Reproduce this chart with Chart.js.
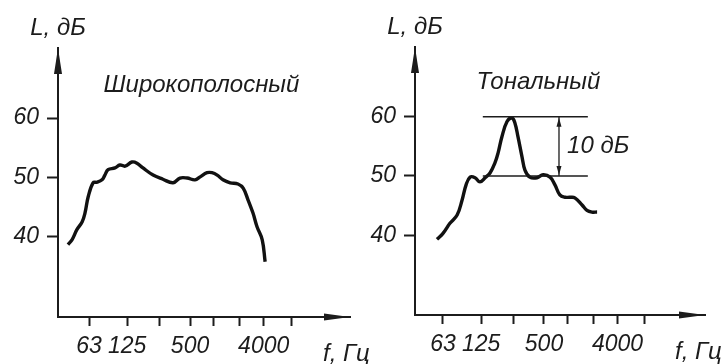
<!DOCTYPE html>
<html>
<head>
<meta charset="utf-8">
<script src="https://cdn.jsdelivr.net/npm/chart.js@4.4.1/dist/chart.umd.min.js"></script>
<style>
  html, body { margin: 0; padding: 0; background: #fff; }
  #wrap { position: relative; width: 725px; height: 364px; overflow: hidden; }
  canvas { position: absolute; top: 0; }
  #c1 { left: 0; }
  #c2 { left: 362px; }
</style>
</head>
<body>
<div id="wrap">
  <canvas id="c1" width="380" height="364"></canvas>
  <canvas id="c2" width="363" height="364"></canvas>
</div>
<script>
// octave bands; tick positions as drawn (the original spacing is hand made)
const bandFreq = [63, 125, 250, 500, 1000, 2000, 4000, 8000];
const bandPos = [0, 1.32, 2.44, 3.5, 4.31, 5.2, 6.05, 7];
const shownFreq = [63, 125, 500, 4000];
const levelTicks = [40, 50, 60];

// broadband noise spectrum
const broadX = [-0.73, -0.59, -0.42, -0.24, -0.14, -0.03, 0.14, 0.28, 0.45, 0.55, 0.66, 0.9, 1.07, 1.25,
  1.49, 1.66, 1.87, 2.22, 2.56, 2.91, 3.15, 3.4, 3.67, 3.85, 4.09, 4.26, 4.44, 4.64, 4.89, 5.16,
  5.34, 5.51, 5.68, 5.82, 6.0, 6.1];
const broadL = [38.7, 39.5, 41.2, 42.5, 44.0, 46.7, 49.1, 49.2, 49.6, 50.4, 51.3, 51.6, 52.1, 51.9,
  52.6, 52.4, 51.6, 50.4, 49.7, 49.1, 49.9, 49.9, 49.6, 50.1, 50.8, 50.8, 50.4, 49.6, 49.1, 48.9,
  48.2, 46.2, 44.0, 41.7, 39.5, 35.8];

// tonal noise spectrum
const toneX = [-0.21, 0, 0.24, 0.49, 0.66, 0.8, 0.94, 1.11, 1.28, 1.46, 1.63, 1.8, 1.91, 2.04, 2.22,
  2.39, 2.49, 2.6, 2.74, 2.84, 3.01, 3.26, 3.47, 3.71, 3.88, 4.05, 4.23, 4.4, 4.57, 4.82, 4.99,
  5.16, 5.34];
const toneL = [39.3, 40.3, 42.0, 43.4, 45.9, 48.5, 49.8, 49.7, 49.0, 49.7, 50.5, 52.2, 53.9, 56.6, 59.2,
  59.8, 59.0, 56.6, 53.2, 51.0, 49.8, 49.7, 50.2, 49.8, 48.5, 46.8, 46.4, 46.4, 46.3, 45.1, 44.2,
  43.9, 43.9];

// 10 dB marker on the tonal chart
const refLevels = [60, 50];
const refSpan = [1.38, 5.02];
const markerX = 4.02;

const INK = '#1c1c1c';
const FONT = 'italic 24px "Liberation Sans", Arial, sans-serif';
const tickFont = { family: '"Liberation Sans", Arial, sans-serif', size: 23, style: 'italic' };

function pts(xs, ys) {
  return xs.map((x, i) => ({ x: x, y: ys[i] }));
}

function head(ctx, x, y, dx, dy, len, half) {
  // filled arrow head with tip at (x, y) pointing along (dx, dy)
  ctx.beginPath();
  ctx.moveTo(x, y);
  ctx.lineTo(x - dx * len - dy * half, y - dy * len + dx * half);
  ctx.lineTo(x - dx * len + dy * half, y - dy * len - dx * half);
  ctx.closePath();
  ctx.fill();
}

const deco = {
  id: 'deco',
  afterDraw(chart, args, o) {
    const ctx = chart.ctx, a = chart.chartArea;
    const xs = chart.scales.x, ys = chart.scales.y;
    ctx.save();
    ctx.fillStyle = INK;
    head(ctx, a.left, a.top, 0, -1, 26, 4);
    head(ctx, a.right, a.bottom, 1, 0, 26, 3.5);
    ctx.font = FONT;
    ctx.textBaseline = 'alphabetic';
    ctx.textAlign = 'center';
    ctx.fillText('L, дБ', a.left, a.top - 13);
    ctx.textAlign = 'left';
    ctx.fillText('f, Гц', a.right + o.unitDx, a.bottom + 44);
    ctx.fillText(o.name, xs.getPixelForValue(o.nameAt[0]), ys.getPixelForValue(o.nameAt[1]));
    if (o.marker) {
      const mx = xs.getPixelForValue(markerX);
      head(ctx, mx, ys.getPixelForValue(refLevels[0]) + 1, 0, -1, 9, 2.5);
      head(ctx, mx, ys.getPixelForValue(refLevels[1]) - 1, 0, 1, 9, 2.5);
      ctx.textBaseline = 'middle';
      ctx.fillText('10 дБ', xs.getPixelForValue(4.3), ys.getPixelForValue(55));
    }
    ctx.restore();
  }
};

function makeChart(id, datasets, xMin, xMax, pad, xAxisH, name, nameAt, unitDx, marker) {
  return new Chart(document.getElementById(id), {
    type: 'scatter',
    data: { datasets: datasets },
    options: {
      responsive: false,
      animation: false,
      devicePixelRatio: 1,
      layout: { padding: pad },
      plugins: {
        legend: { display: false },
        tooltip: { enabled: false },
        deco: { name: name, nameAt: nameAt, unitDx: unitDx, marker: marker }
      },
      elements: { point: { radius: 0 } },
      scales: {
        x: {
          type: 'linear', min: xMin, max: xMax,
          afterBuildTicks: s => { s.ticks = bandPos.map(v => ({ value: v })); },
          afterFit: s => { s.height = xAxisH; },
          grid: { drawOnChartArea: false, drawTicks: true, tickLength: 9, tickWidth: 2, color: INK },
          border: { display: true, color: INK, width: 2 },
          ticks: {
            autoSkip: false, maxRotation: 0, padding: 7, color: INK, font: tickFont,
            callback: (v, i) => shownFreq.includes(bandFreq[i]) ? String(bandFreq[i]) : ''
          }
        },
        y: {
          type: 'linear', min: 26.5, max: 71.8,
          afterBuildTicks: s => { s.ticks = levelTicks.map(v => ({ value: v })); },
          afterFit: s => { s.width = pad.yW; },
          grid: { drawOnChartArea: false, drawTicks: true, tickLength: 11, tickWidth: 2, color: INK },
          border: { display: true, color: INK, width: 2 },
          ticks: { padding: 8, color: INK, font: tickFont }
        }
      }
    },
    plugins: [deco]
  });
}

const curve = { showLine: true, borderColor: '#111', borderWidth: 3.4, tension: 0.4, fill: false };
const thin = { showLine: true, borderColor: INK, borderWidth: 1.6, tension: 0, fill: false };

makeChart('c1',
  [Object.assign({ data: pts(broadX, broadL) }, curve)],
  -1.074, 9.04, { top: 48, right: 30, left: 0, bottom: 0, yW: 58 }, 47,
  'Широкополосный', [0.5, 64.4], -27, false);

makeChart('c2',
  [
    Object.assign({ data: pts(refSpan, [refLevels[0], refLevels[0]]) }, thin),
    Object.assign({ data: pts(refSpan, [refLevels[1], refLevels[1]]) }, thin),
    Object.assign({ data: pts([markerX, markerX], refLevels) }, thin, { borderWidth: 1.3 }),
    Object.assign({ data: pts(toneX, toneL) }, curve)
  ],
  -0.97, 9.08, { top: 47, right: 20, left: 0, bottom: 0, yW: 53 }, 49,
  'Тональный', [1.16, 64.7], -30, true);
</script>
</body>
</html>
